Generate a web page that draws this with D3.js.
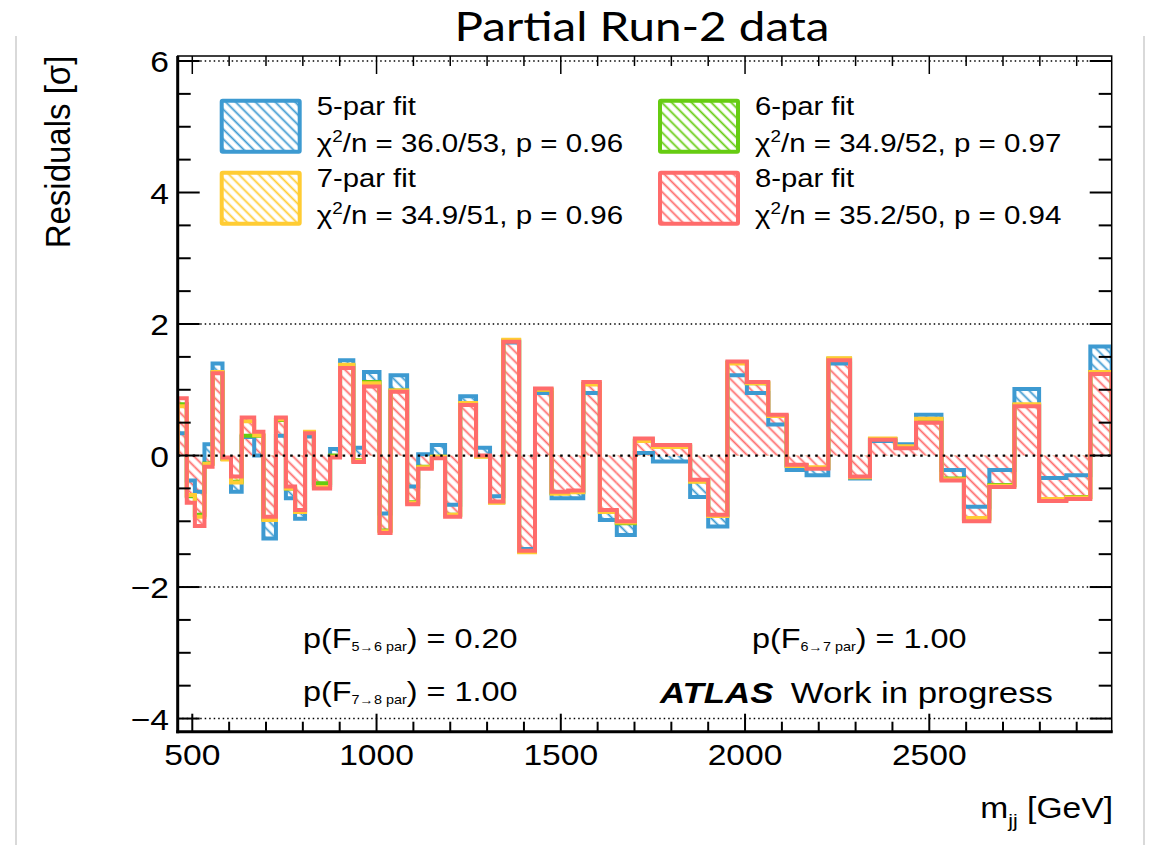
<!DOCTYPE html>
<html><head><meta charset="utf-8">
<script src="https://cdn.jsdelivr.net/npm/d3@7"></script>
<style>body{margin:0;background:#fff}svg{display:block}</style>
</head><body>
<script>
// ---- data ----
const binEdges = [460,485,507,533,555,582,605,634,668,693,727,754,779,806,830,874,901,937,966,1008,1038,1083,1113,1150,1186,1227,1270,1308,1344,1387,1430,1475,1520,1561,1606,1652,1701,1750,1800,1851,1900,1952,2005,2063,2113,2167,2226,2285,2339,2408,2464,2533,2594,2663,2731,2798,2872,2937,2995];
const fit5 = [0.34,-0.38,-0.55,0.17,1.40,-0.05,-0.55,0.28,0.0,-1.26, 0.3,-0.65,-0.96,0.29,-0.45,0.1,1.45,0.12,1.27,-0.88, 1.22,-0.47,0.02,0.16,-0.75,0.9,0.12,-0.62,1.72,-1.42, 0.95,-0.65,-0.65,0.95,-0.98,-1.21,0.04,-0.09,-0.09,-0.63, -1.08,1.22,0.95,0.47,-0.22,-0.3,1.4,-0.35,0.22,0.17, 0.62,-0.22,-0.78,-0.22,1.01,-0.34,-0.3,1.66];
const fit6 = [0.78,-0.62,-0.9,-0.12,1.26,-0.05,-0.4,0.3,0.3,-0.97, 0.54,-0.5,-0.85,0.35,-0.42,0.0,1.37,-0.07,1.12,-1.14, 0.99,-0.71,-0.17,-0.02,-0.9,0.79,-0.01,-0.71,1.75,-1.46, 1.0,-0.57,-0.55,1.09,-0.85,-1.03,0.23,0.14,0.14,-0.39, -0.91,1.41,1.1,0.6,-0.15,-0.19,1.47,-0.33,0.25,0.13, 0.55,-0.35,-0.96,-0.45,0.77,-0.67,-0.63,1.27];
const fit7 = [0.75,-0.6,-0.93,-0.13,1.27,-0.06,-0.41,0.52,0.31,-0.98, 0.55,-0.5,-0.86,0.36,-0.48,-0.02,1.38,-0.08,1.1,-1.15, 0.99,-0.72,-0.18,-0.02,-0.9,0.8,-0.02,-0.72,1.76,-1.47, 1.0,-0.58,-0.56,1.08,-0.86,-1.02,0.22,0.13,0.13,-0.4, -0.92,1.4,1.1,0.6,-0.16,-0.18,1.48,-0.33,0.26,0.14, 0.56,-0.36,-0.95,-0.46,0.78,-0.66,-0.64,1.27];
const fit8 = [0.87,-0.72,-1.07,-0.17,1.25,-0.03,-0.32,0.58,0.36,-0.93, 0.58,-0.47,-0.83,0.34,-0.5,-0.03,1.33,-0.1,1.05,-1.18, 0.97,-0.74,-0.2,-0.04,-0.93,0.77,0.0,-0.7,1.73,-1.45, 1.02,-0.55,-0.53,1.12,-0.83,-1.0,0.26,0.16,0.16,-0.37, -0.9,1.43,1.12,0.62,-0.14,-0.2,1.45,-0.32,0.24,0.11, 0.5,-0.38,-1.0,-0.48,0.75,-0.69,-0.66,1.24];
const seriesNames = ["5-par fit","6-par fit","7-par fit","8-par fit"];
const chi2Labels = ["36.0/53, p = 0.96","34.9/52, p = 0.97","34.9/51, p = 0.96","35.2/50, p = 0.94"];
const seriesColors = ["#3d9ad1","#66cc11","#ffcc33","#ff6b6b"];
const xTickLabels = [500,1000,1500,2000,2500];
const yTickLabels = [-4,-2,0,2,4,6];
const gridLevels = [-4,-2,0,2,6];
const pValueLabels = [["5\u21926 par","0.20"],["6\u21927 par","1.00"],["7\u21928 par","1.00"]];

// ---- layout ----
const W = 1159, H = 845;
const L = 177.7, R = 1111.7, T = 56, B = 731.7;
const FONT = "'Liberation Sans', Arial, Helvetica, sans-serif";

const svg = d3.select("body").append("svg").attr("width", W).attr("height", H);
svg.append("rect").attr("width", W).attr("height", H).attr("fill", "#fff");

// slide decorations
svg.append("line").attr("x1",16).attr("x2",16).attr("y1",36).attr("y2",H).attr("stroke","#d9d9d9").attr("stroke-width",2);
svg.append("line").attr("x1",1144).attr("x2",1144).attr("y1",36).attr("y2",H).attr("stroke","#d9d9d9").attr("stroke-width",2);

svg.append("text").attr("transform", "translate(642,41) scale(1.16,1)").attr("text-anchor","middle")
  .attr("font-family","Lato, 'Open Sans', sans-serif").attr("font-size", 41).attr("fill","#000")
  .text("Partial Run-2 data");

const x = d3.scaleLinear().domain([460.4, 2995]).range([L, R]);
const y = d3.scaleLinear().domain([-4.2, 6.076]).range([B, T]);

const defs = svg.append("defs");
seriesColors.forEach((c, i) => {
  const p = defs.append("pattern").attr("id", "hatch" + i).attr("patternUnits", "userSpaceOnUse")
    .attr("width", 7).attr("height", 7).attr("patternTransform", "rotate(-45)");
  p.append("line").attr("x1", 3.5).attr("x2", 3.5).attr("y1", -1).attr("y2", 8)
    .attr("stroke", c).attr("stroke-width", 1.8);
});
defs.append("clipPath").attr("id","plotclip").append("rect")
  .attr("x", L).attr("y", T).attr("width", R - L).attr("height", B - T);

const plot = svg.append("g").attr("clip-path","url(#plotclip)");
const allSeries = [fit5, fit6, fit7, fit8];
const bins = fit8.map((_, i) => ({x0: binEdges[i], x1: binEdges[i+1]}));

// pass 1: hatched fills, each later fit painted over the earlier ones
allSeries.forEach((vals, si) => {
  const g = plot.append("g");
  ["#fff", "url(#hatch" + si + ")"].forEach(fill => {
    g.append("g").selectAll("rect").data(bins).join("rect")
      .attr("x", d => x(d.x0)).attr("width", d => x(d.x1) - x(d.x0))
      .attr("y", (d, i) => Math.min(y(0), y(vals[i])))
      .attr("height", (d, i) => Math.abs(y(vals[i]) - y(0)))
      .attr("fill", fill);
  });
});
// pass 2: histogram outlines
allSeries.forEach((vals, si) => {
  const pts = [[binEdges[0], 0]];
  vals.forEach((v, i) => { pts.push([binEdges[i], v]); pts.push([binEdges[i+1], v]); });
  pts.push([binEdges[binEdges.length-1], 0]);
  plot.append("path").attr("d", d3.line().x(d => x(d[0])).y(d => y(d[1]))(pts))
    .attr("fill","none").attr("stroke", seriesColors[si]).attr("stroke-width", 4)
    .attr("stroke-linejoin","miter");
});

// dotted lines
svg.append("g").selectAll("line").data(gridLevels).join("line")
  .attr("x1", L).attr("x2", R).attr("y1", d => y(d)).attr("y2", d => y(d))
  .attr("stroke", "#000").attr("stroke-width", d => d === 0 ? 2.2 : 1.4)
  .attr("stroke-dasharray", d => d === 0 ? "2.5,5" : "1.5,3");

// ticks (inside the frame)
const axG = svg.append("g");
const xMinor = d3.range(500, 3000, 100);
axG.append("g").selectAll("line").data(xMinor).join("line")
  .attr("x1", d => x(d)).attr("x2", d => x(d)).attr("y1", B)
  .attr("y2", d => B - (d % 500 === 0 ? 18 : 10)).attr("stroke","#000").attr("stroke-width", 2);
axG.append("g").selectAll("line").data(xMinor).join("line")
  .attr("x1", d => x(d)).attr("x2", d => x(d)).attr("y1", T)
  .attr("y2", d => T + (d % 500 === 0 ? 18 : 10)).attr("stroke","#000").attr("stroke-width", 1.5);
const yMinor = d3.range(-4, 6.01, 0.5);
axG.append("g").selectAll("line").data(yMinor).join("line")
  .attr("x1", L).attr("x2", d => L + (Math.abs(d % 2) < 1e-6 ? 22 : 13))
  .attr("y1", d => y(d)).attr("y2", d => y(d)).attr("stroke","#000").attr("stroke-width", 2);
axG.append("g").selectAll("line").data(yMinor).join("line")
  .attr("x1", R).attr("x2", d => R - (Math.abs(d % 2) < 1e-6 ? 22 : 13))
  .attr("y1", d => y(d)).attr("y2", d => y(d)).attr("stroke","#000").attr("stroke-width", 2);
// frame
svg.append("rect").attr("x", L).attr("y", T).attr("width", R - L).attr("height", B - T)
  .attr("fill","none").attr("stroke","#000").attr("stroke-width", 1.5);
svg.append("line").attr("x1", L).attr("x2", L).attr("y1", T).attr("y2", B + 1.5).attr("stroke","#000").attr("stroke-width", 3);
svg.append("line").attr("x1", L - 1.5).attr("x2", R + 1).attr("y1", B).attr("y2", B).attr("stroke","#000").attr("stroke-width", 3);

function stxt(parent, px, py, anchor, size, sx, str, extra) {
  const t = parent.append("text")
    .attr("transform", `translate(${px},${py}) scale(${sx},1)`)
    .attr("text-anchor", anchor).attr("font-family", FONT).attr("font-size", size).attr("fill", "#000");
  if (str !== null) t.text(str);
  if (extra) extra(t);
  return t;
}

// tick labels
xTickLabels.forEach(v => stxt(svg, x(v), 765, "middle", 30, 1.12, String(v)));
yTickLabels.forEach(v => stxt(svg, 169, y(v) + 11, "end", 30, 1.12, v < 0 ? "\u2212" + Math.abs(v) : String(v)));

// axis titles
stxt(svg, 1113, 818, "end", 30, 1.12, null, t => {
  t.append("tspan").text("m");
  t.append("tspan").attr("font-size", 19).attr("dy", 9).text("jj");
  t.append("tspan").attr("dy", -9).text(" [GeV]");
});
svg.append("text").attr("transform", "translate(70,152) rotate(-90) scale(1,1.08)")
  .attr("text-anchor","middle").attr("font-family", FONT).attr("font-size", 33).text("Residuals [\u03c3]");

// legend
const legPos = [[221.7,100.7],[660,100.7],[221.7,172.7],[660,172.7]];
[0,1,2,3].forEach(si => {
  const [bx, by] = legPos[si];
  svg.append("rect").attr("x", bx).attr("y", by).attr("width", 78).attr("height", 51)
    .attr("fill", "url(#hatch" + si + ")").attr("stroke", seriesColors[si]).attr("stroke-width", 4).attr("rx", 1);
  stxt(svg, bx + 95, by + 14.5, "start", 25, 1.17, seriesNames[si]);
  stxt(svg, bx + 95, by + 51, "start", 25, 1.18, null, t => {
    t.append("tspan").text("\u03c7");
    t.append("tspan").attr("font-size", 16).attr("dy", -10).text("2");
    t.append("tspan").attr("dy", 10).text("/n = " + chi2Labels[si]);
  });
});

// p-values
const pPos = [[303,648],[752,648],[303,701]];
pValueLabels.forEach((p, i) => {
  stxt(svg, pPos[i][0], pPos[i][1], "start", 27, 1.2, null, t => {
    t.append("tspan").text("p(F");
    t.append("tspan").attr("font-size", 12).attr("dy", 3).text(p[0]);
    t.append("tspan").attr("dy", -3).text(") = " + p[1]);
  });
});
stxt(svg, 660, 703, "start", 29, 1.2, null, t => {
  t.append("tspan").attr("font-weight","bold").attr("font-style","italic").text("ATLAS");
  t.append("tspan").text("\u2002Work in progress");
});
</script>
</body></html>
